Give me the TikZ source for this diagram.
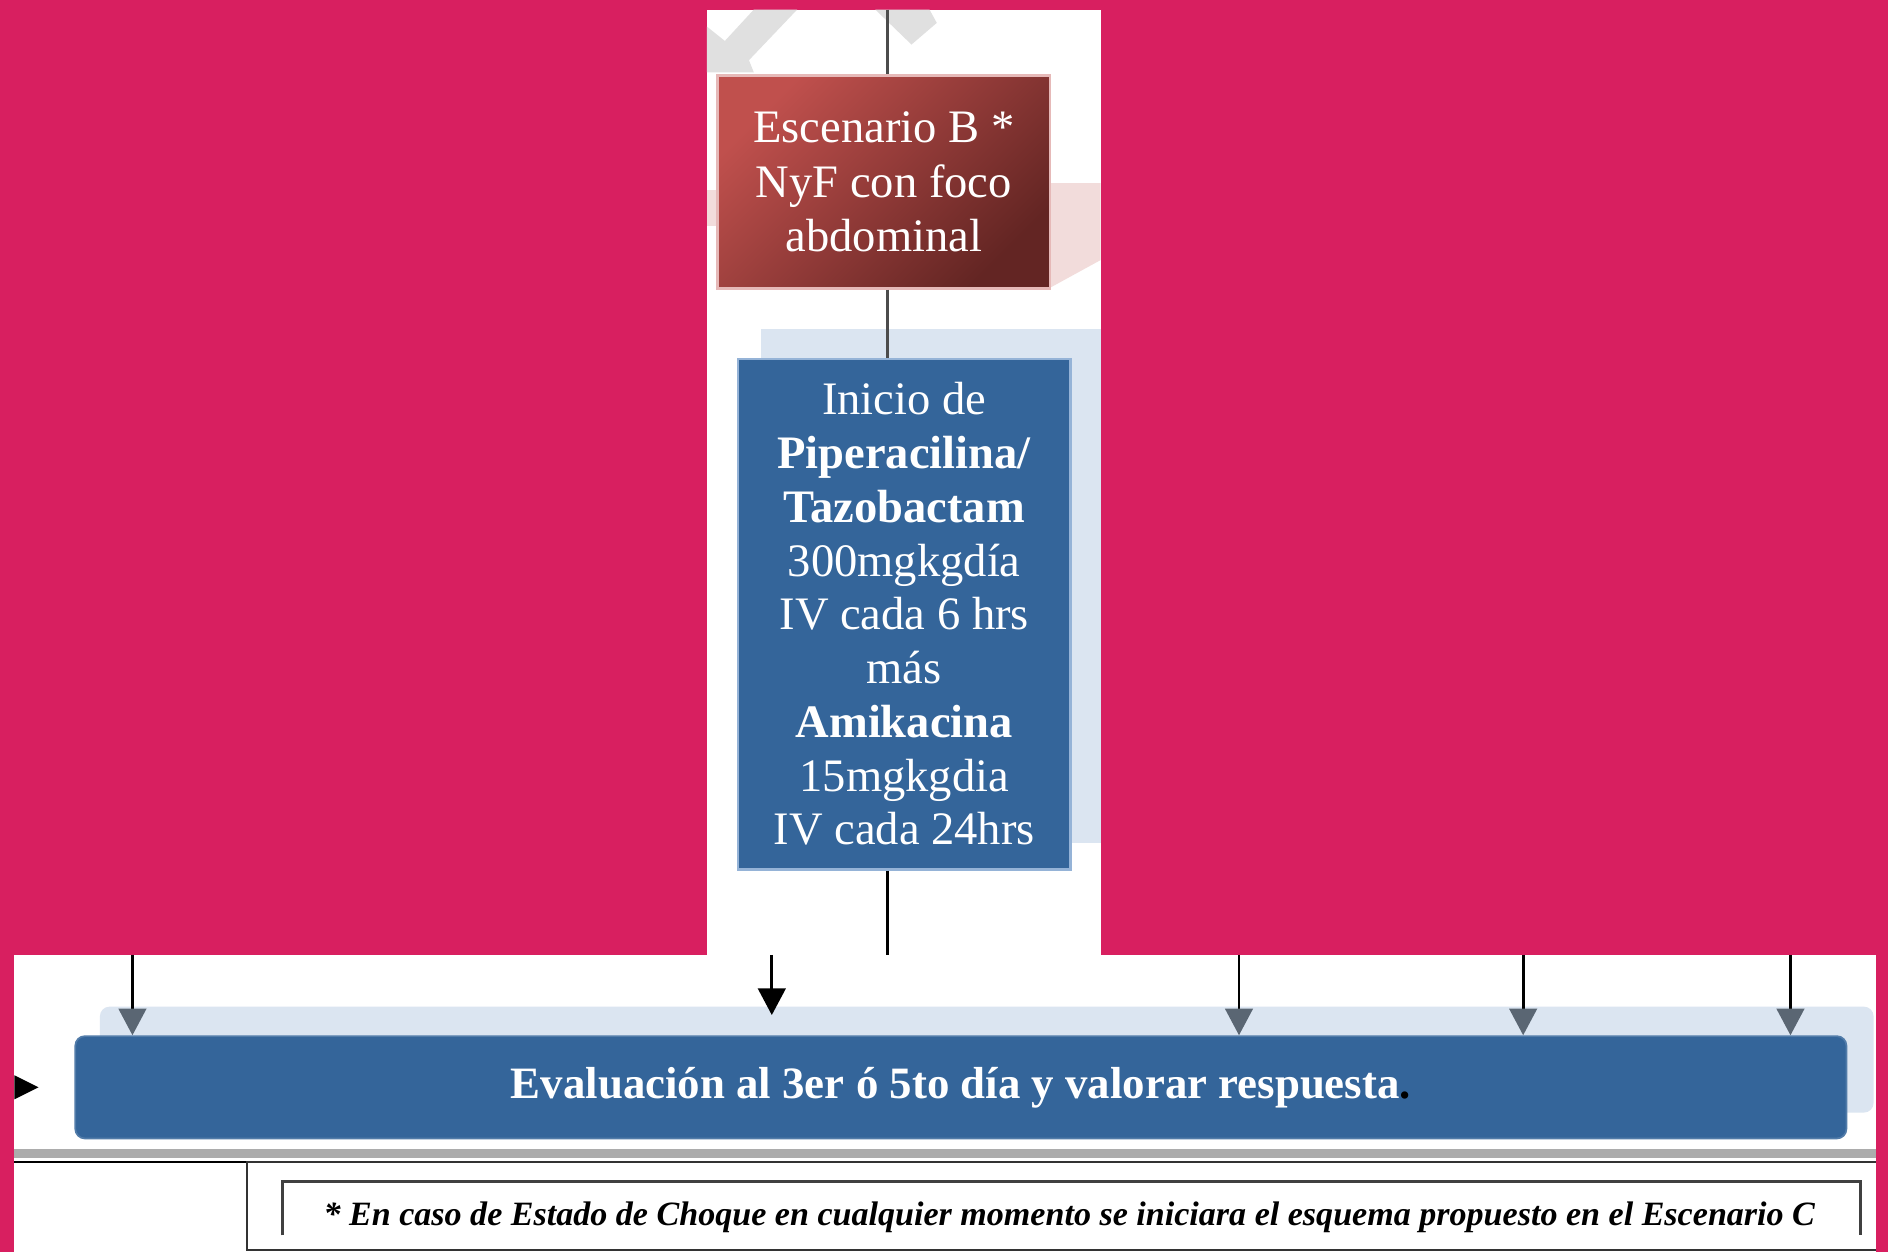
\documentclass[tikz,border=0pt]{standalone}
\usepackage{fontspec}
\setmainfont{Liberation Serif}
\usetikzlibrary{arrows.meta,positioning}

\definecolor{fondo}{HTML}{D81F60}
\definecolor{azul}{HTML}{34659A}
\definecolor{azulclaro}{HTML}{DBE5F1}
\definecolor{azulborde}{HTML}{95B3D7}
\definecolor{rojoclaro}{HTML}{C0504D}
\definecolor{rojooscuro}{HTML}{632523}
\definecolor{rojoborde}{HTML}{E6B9B8}
\definecolor{rosa}{HTML}{F2DCDB}
\definecolor{marca}{HTML}{E0E0E0}
\definecolor{punta}{HTML}{5A6673}

\tikzset{
  escenario/.style={rectangle, draw=rojoborde, line width=0.6pt,
    top color=rojoclaro, bottom color=rojooscuro, shading angle=45,
    text=white, align=center, minimum width=27.6mm, minimum height=17.7mm,
    font=\fontsize{11}{12.8}\selectfont},
  tratamiento/.style={rectangle, draw=azulborde, line width=0.6pt, fill=azul,
    text=white, align=center, minimum width=27.6mm, minimum height=42.4mm,
    font=\fontsize{11}{12.7}\selectfont},
  evaluacion/.style={rectangle, rounded corners=0.8mm, fill=azul,
    draw=azul!85!white, line width=0.4pt, text=white,
    minimum width=147.1mm, minimum height=8.5mm,
    font=\bfseries\fontsize{10.6}{12}\selectfont},
  nota/.style={font=\bfseries\itshape\fontsize{8.05}{10}\selectfont},
  conn/.style={draw=black!70, line width=0.6pt},
  flecha/.style={line width=0.7pt, -{Triangle[width=6.5pt,length=6.3pt,color=punta]}},
  flechanegra/.style={line width=0.7pt, -{Triangle[width=6.5pt,length=6.3pt]}}
}

\begin{document}
\begin{tikzpicture}[x=0.1mm, y=-0.1mm]

  % Background and panels
  \useasboundingbox (0,0) rectangle (1568,1040);
  \fill[fondo] (0,0) rectangle (1568,1040);
  \fill[white] (587,8) rectangle (914,794);
  \fill[white] (12,793) rectangle (1558,1040);

  % Watermark pieces
  \fill[marca] (587,22) -- (602,34) -- (626,8) -- (662,8) -- (622,50)
    -- (626,60) -- (587,60) -- cycle;
  \fill[marca] (727,8) -- (772,8) -- (778,19) -- (757,37) -- cycle;
  \fill[rosa] (872,152) -- (914,152) -- (914,216) -- (872,239) -- cycle;
  \fill[rosa] (587,158) rectangle (596,188);

  % Shadows
  \fill[azulclaro] (632,273) rectangle (914,700);
  \fill[azulclaro, rounded corners=0.8mm] (83,836) rectangle (1556,924);

  % Boxes
  \node[escenario] (escB) at (734,151) {Escenario B *\\ NyF con foco\\ abdominal};
  \node[tratamiento] (inicio) at (751,510) {Inicio de\\ \textbf{Piperacilina/}\\
    \textbf{Tazobactam}\\ 300mgkgdía\\ IV cada 6 hrs\\ más\\ \textbf{Amikacina}\\
    15mgkgdia\\ IV cada 24hrs};
  \node[evaluacion] (eval) at (798,903)
    {Evaluación al 3er ó 5to día y valorar respuesta{\color{black}.}};

  % Connectors in the upper panel
  \coordinate (arriba) at (737,8);
  \coordinate (corte) at (737,793);
  \draw[conn] (arriba) -- (arriba |- escB.north);
  \draw[conn] (arriba |- escB.south) -- (arriba |- inicio.north);
  \draw[black, line width=0.7pt] (arriba |- inicio.south) -- (corte);

  % Arrows into the evaluation bar
  \coordinate (a1) at (110,793);
  \coordinate (a2) at (641,793);
  \coordinate (a3) at (1029,793);
  \coordinate (a4) at (1265,793);
  \coordinate (a5) at (1487,793);
  \coordinate (b2) at (641,843);
  \draw[flecha] (a1) -- (a1 |- eval.north);
  \draw[flechanegra] (a2) -- (b2);
  \draw[flecha] (a3) -- (a3 |- eval.north);
  \draw[flecha] (a4) -- (a4 |- eval.north);
  \draw[flecha] (a5) -- (a5 |- eval.north);
  \fill[black] (12,893) -- (32,903) -- (12,913) -- cycle;

  % Separator and footnote frames
  \draw[gray!65, line width=2.2pt] (12,958) -- (1558,958);
  \draw[black, line width=0.6pt] (12,965) -- (1558,965);
  \draw[black!80, line width=0.5pt] (1558,965) -| (205,1038) -- (1558,1038);
  \draw[black!75, line width=0.7pt] (235,1026) |- (1545,981) -- (1545,1026);
  \node[nota] (nota) at (888,1011) {* En caso de Estado de Choque en cualquier
    momento se iniciara el esquema propuesto en el Escenario C};

\end{tikzpicture}
\end{document}
